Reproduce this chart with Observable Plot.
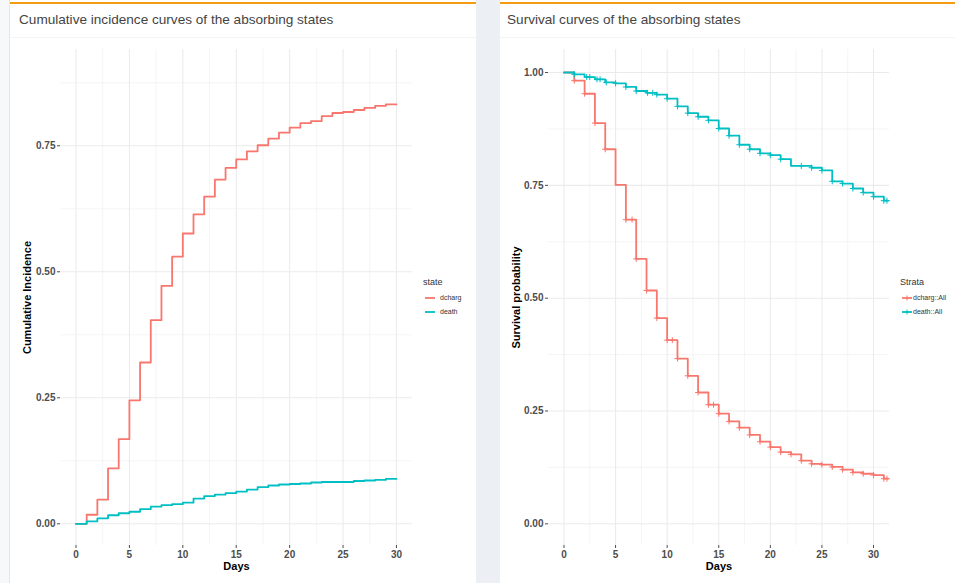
<!DOCTYPE html>
<html><head><meta charset="utf-8">
<script src="https://cdn.jsdelivr.net/npm/d3@7"></script>
<script src="https://cdn.jsdelivr.net/npm/@observablehq/plot@0.6"></script>
<style>
html,body{margin:0;padding:0;}
body{width:955px;height:583px;position:relative;overflow:hidden;background:#ecf0f5;font-family:"Liberation Sans",Arial,sans-serif;}
.abs{position:absolute;}
.card{position:absolute;top:0;height:583px;background:#fff;}
.bar{position:absolute;left:0;right:0;top:2px;height:2px;background:#f39c12;}
.title{position:absolute;top:13px;font-size:13.6px;line-height:14px;color:#444;white-space:nowrap;}
.divider{position:absolute;left:0;right:0;top:37px;height:1px;background:#f4f4f4;}
.legend{position:absolute;color:#333;}
.legend .lt{font-size:9px;line-height:9px;white-space:nowrap;}
.legend .row{position:absolute;left:0;height:12px;white-space:nowrap;}
.legend .row svg{position:absolute;left:2px;top:0;}
.legend .row span{position:absolute;top:2px;font-size:7px;line-height:8px;color:#333;}
</style></head><body>
<div class="abs" style="left:0;top:0;width:10px;height:583px;background:#f7f8fa;border-right:1px solid #e3e7ec;box-sizing:border-box"></div>
<div class="card" id="cardL" style="left:10px;width:466px;">
  <div class="bar"></div>
  <div class="title" style="left:9px">Cumulative incidence curves of the absorbing states</div>
  <div class="divider"></div>
</div>
<div class="card" id="cardR" style="left:500px;width:470px;">
  <div class="bar"></div>
  <div class="title" style="left:7px">Survival curves of the absorbing states</div>
  <div class="divider"></div>
</div>
<div class="abs" id="plotL" style="left:10px;top:40px;"></div>
<div class="abs" id="plotR" style="left:500px;top:40px;"></div>
<div class="legend" id="legL" style="left:423px;top:278px;"></div>
<div class="legend" id="legR" style="left:900px;top:278px;"></div>
<script>
// ---------- data ----------
const states = ["dcharg", "death"];
const strata = ["dcharg::All", "death::All"];
const colors = ["#F8766D", "#00BFC4"];

const ciDays = [0,1,2,3,4,5,6,7,8,9,10,11,12,13,14,15,16,17,18,19,20,21,22,23,24,25,26,27,28,29,30];
const ciDcharg = [0,0.018,0.048,0.110,0.168,0.245,0.320,0.404,0.472,0.530,0.576,0.614,0.649,0.683,0.706,0.723,0.739,0.751,0.764,0.776,0.786,0.795,0.799,0.809,0.815,0.817,0.821,0.825,0.829,0.832,0.832];
const ciDeath = [0,0.005,0.011,0.017,0.021,0.024,0.029,0.034,0.037,0.039,0.042,0.050,0.055,0.058,0.061,0.064,0.068,0.073,0.076,0.078,0.079,0.080,0.082,0.083,0.083,0.083,0.085,0.086,0.087,0.089,0.089];

const survDays = [0,1,2,3,4,5,6,7,8,9,10,11,12,13,14,15,16,17,18,19,20,21,22,23,24,25,26,27,28,29,30,31,31.4];
const survDcharg = [1,0.982,0.953,0.888,0.830,0.751,0.674,0.587,0.517,0.456,0.407,0.366,0.328,0.291,0.264,0.244,0.227,0.213,0.197,0.182,0.170,0.159,0.154,0.140,0.133,0.131,0.126,0.120,0.114,0.111,0.108,0.100,0.100];
const survDeath = [1,0.996,0.990,0.985,0.978,0.976,0.968,0.959,0.955,0.951,0.942,0.925,0.910,0.902,0.894,0.876,0.860,0.840,0.830,0.821,0.817,0.808,0.793,0.793,0.789,0.783,0.759,0.754,0.743,0.734,0.725,0.716,0.716];

// censoring times (where "+" marks appear)
const censorDcharg = [1,2,3,4,6,6.6,7,8,9,10,10.5,11,12,13,14,14.5,15,16,17,18,19,20,21,22,23,24,25,26,27,28,29,30,31,31.3];
const censorDeath = [1,2.2,2.5,3.2,3.5,4.1,5,6,7,8.1,8.6,9,10,11,12,13,14,15,16,17,18,19,20,21,23,24,25,26,27,28,29,30,31,31.3];

const xTicks = [0,5,10,15,20,25,30];
const xMinor = [2.5,7.5,12.5,17.5,22.5,27.5];
const yTicksCI = [0,0.25,0.5,0.75];
const yTicksSurv = [0,0.25,0.5,0.75,1];
const yMinor = [0.125,0.375,0.625,0.875];

// ---------- helpers ----------
function series(days, vals, name) { return days.map((d, i) => ({t: d, v: vals[i], s: name})); }
function stepAt(days, vals, t) { let k = 0; for (let i = 0; i < days.length; i++) if (days[i] <= t) k = i; return vals[k]; }

const ciData = [...series(ciDays, ciDcharg, states[0]), ...series(ciDays, ciDeath, states[1])];
const survData = [...series(survDays, survDcharg, strata[0]), ...series(survDays, survDeath, strata[1])];
const censorData = [
  ...censorDcharg.map(t => ({t, v: stepAt(survDays, survDcharg, t), s: strata[0]})),
  ...censorDeath.map(t => ({t, v: stepAt(survDays, survDeath, t), s: strata[1]}))
];

const axisFont = {fontSize: 10, fontWeight: "bold"};
function gridMarks(yMajor) {
  return [
    Plot.ruleX(xMinor, {stroke: "#ebebeb", strokeWidth: 0.55}),
    Plot.ruleY(yMinor, {stroke: "#ebebeb", strokeWidth: 0.55}),
    Plot.ruleX(xTicks, {stroke: "#ebebeb", strokeWidth: 1.07}),
    Plot.ruleY(yMajor, {stroke: "#ebebeb", strokeWidth: 1.07})
  ];
}
const titleFont = {fontSize: 11, fontWeight: "bold", fill: "#000", textAnchor: "middle", lineAnchor: "middle"};

const left = Plot.plot({
  width: 410, height: 543,
  marginLeft: 50, marginRight: 8, marginTop: 9, marginBottom: 38,
  style: {color: "#4d4d4d", fontFamily: "Liberation Sans, Arial, sans-serif", background: "transparent"},
  x: {domain: [-1.45, 31.5]},
  y: {domain: [-0.043, 0.941]},
  color: {domain: states, range: colors},
  marks: [
    ...gridMarks(yTicksCI),
    Plot.line(ciData, {x: "t", y: "v", z: "s", stroke: "s", curve: "step-after", strokeWidth: 1.8}),
    Plot.axisX({ticks: xTicks, tickSize: 3, tickPadding: 2, label: null, ...axisFont}),
    Plot.axisY({ticks: yTicksCI, tickFormat: d3.format(".2f"), tickSize: 3, tickPadding: 2, label: null, ...axisFont}),
    Plot.text(["Days"], {frameAnchor: "bottom", dy: 21, ...titleFont}),
    Plot.text(["Cumulative Incidence"], {frameAnchor: "left", rotate: -90, dx: -33, ...titleFont})
  ]
});
document.getElementById("plotL").appendChild(left);

const right = Plot.plot({
  width: 395, height: 543,
  marginLeft: 48, marginRight: 6, marginTop: 9, marginBottom: 38,
  style: {color: "#4d4d4d", fontFamily: "Liberation Sans, Arial, sans-serif", background: "transparent"},
  x: {domain: [-1.5, 31.55]},
  y: {domain: [-0.048, 1.051]},
  color: {domain: strata, range: colors},
  marks: [
    ...gridMarks(yTicksSurv),
    Plot.line(survData, {x: "t", y: "v", z: "s", stroke: "s", curve: "step-after", strokeWidth: 1.8}),
    Plot.dot(censorData, {x: "t", y: "v", stroke: "s", symbol: "plus", r: 2.1, strokeWidth: 1}),
    Plot.axisX({ticks: xTicks, tickSize: 3, tickPadding: 2, label: null, ...axisFont}),
    Plot.axisY({ticks: yTicksSurv, tickFormat: d3.format(".2f"), tickSize: 3, tickPadding: 2, label: null, ...axisFont}),
    Plot.text(["Days"], {frameAnchor: "bottom", dy: 21, ...titleFont}),
    Plot.text(["Survival probability"], {frameAnchor: "left", rotate: -90, dx: -32, ...titleFont})
  ]
});
document.getElementById("plotR").appendChild(right);

// ---------- legends ----------
function legend(el, title, names, withPlus) {
  let html = `<div class="lt">${title}</div>`;
  names.forEach((n, i) => {
    const plus = withPlus ? `<line x1="5" x2="5" y1="3.5" y2="8.5" stroke="${colors[i]}" stroke-width="1"/>` : "";
    html += `<div class="row" style="top:${14 + i * 13.5}px"><svg width="12" height="12"><line x1="0" x2="10" y1="6" y2="6" stroke="${colors[i]}" stroke-width="1.8"/>${plus}</svg><span style="left:${withPlus ? 13 : 17}px">${n}</span></div>`;
  });
  el.innerHTML = html;
}
legend(document.getElementById("legL"), "state", states, false);
legend(document.getElementById("legR"), "Strata", strata, true);
</script>
</body></html>
